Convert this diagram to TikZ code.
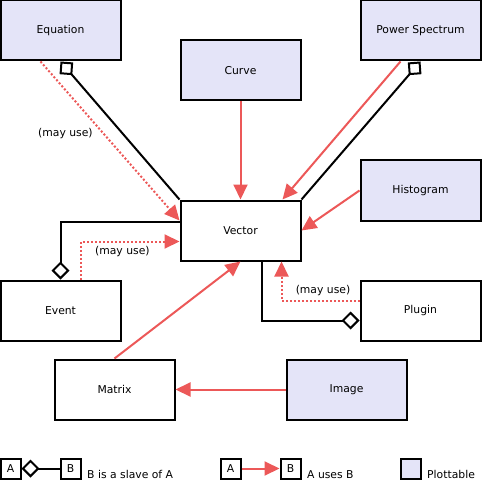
\documentclass[tikz,border=0pt]{standalone}
\usepackage{fontspec}
\setmainfont{DejaVu Sans}
\usetikzlibrary{arrows.meta}
\definecolor{plotfill}{RGB}{228,228,248}
\definecolor{userel}{RGB}{236,88,88}

\begin{document}
\begin{tikzpicture}[x=1pt, y=-1pt, font=\fontsize{10.8}{13}\selectfont,
        box/.style={draw, line width=2pt, minimum width=120pt, minimum height=60pt, inner sep=0pt},
        legbox/.style={draw, line width=2pt, minimum size=20pt, inner sep=0pt},
        plot/.style={fill=plotfill},
        uses/.style={userel, line width=2pt, -{Triangle[length=15pt,width=14pt]}},
        mayuse/.style={uses, dash pattern=on 2pt off 2pt},
        relabel/.style={text=black},
        slave/.style={black, line width=2pt, {Diamond[open,length=18pt,width=18pt]}-}]
                \useasboundingbox (0,0) rectangle (482,486);

                \begin{scope}[every node/.style={box}]
                    \node[plot] (eq) at (60.5,30.5) {Equation};
                    \node[plot] (curve) at (240.5,70.5) {Curve};
                    \node[plot] (pspec) at (420.5,30.5) {Power Spectrum};
                    \node[plot] (hist) at (420.5,190.5) {Histogram};
                    \node (vec) at (240.5,230.5) {Vector};
                    \node (event) at (60.5,310.5) {Event};
                    \node (plugin) at (420.5,310.5) {Plugin};
                    \node (matrix) at (114.5,389.5) {Matrix};
                    \node[plot] (image) at (346.5,389.5) {Image};
                \end{scope}

                \draw[slave] (eq.south) -- (vec.north west);
                \draw[slave] (pspec.south) -- (vec.north east);
                \draw[slave] (event.north) |- ([yshift=9pt]vec.west);
                \draw[slave] ([yshift=-10pt]plugin.west) -| ([xshift=21pt]vec.south);

                \draw[uses] (curve) -- (vec);
                \draw[uses] ([xshift=-20pt]pspec.south) -- ([xshift=-19pt]vec.north east);
                \draw[uses] (hist.west) -- (vec.east);
                \draw[uses] (matrix.north) -- (vec.south);
                \draw[uses] (image) -- (matrix);

                \draw[mayuse] ([xshift=-20pt]eq.south) -- node[relabel, pos=0.45, left=6pt] (eqlbl) {(may use)} ([yshift=10pt]vec.west);
                \draw[mayuse] ([xshift=20.5pt]event.north) |- node[relabel, pos=0.71, below] (evlbl) {(may use)} ([yshift=-11pt]vec.west);
                \draw[mayuse] ([yshift=10pt]plugin.west) -| node[relabel, pos=0.234, above] (pllbl) {(may use)} ([xshift=41pt]vec.south);

                % legend
                \node[legbox] (la1) at (10.5,468.5) {A};
                \node[legbox] (lb1) at (70.5,468.5) {B};
                \draw[slave] (la1) -- (lb1);
                \node[anchor=base west, inner sep=0pt] (lt1) at (87,478) {B is a slave of A};

                \node[legbox] (la2) at (230.5,468.5) {A};
                \node[legbox] (lb2) at (290.5,468.5) {B};
                \draw[uses] (la2) -- (lb2);
                \node[anchor=base west, inner sep=0pt] (lt2) at (307,478) {A uses B};

                \node[legbox, plot] (lplot) at (410.5,468.5) {};
                \node[anchor=base west, inner sep=0pt] (lt3) at (427,478) {Plottable};
            \end{tikzpicture}
\end{document}
